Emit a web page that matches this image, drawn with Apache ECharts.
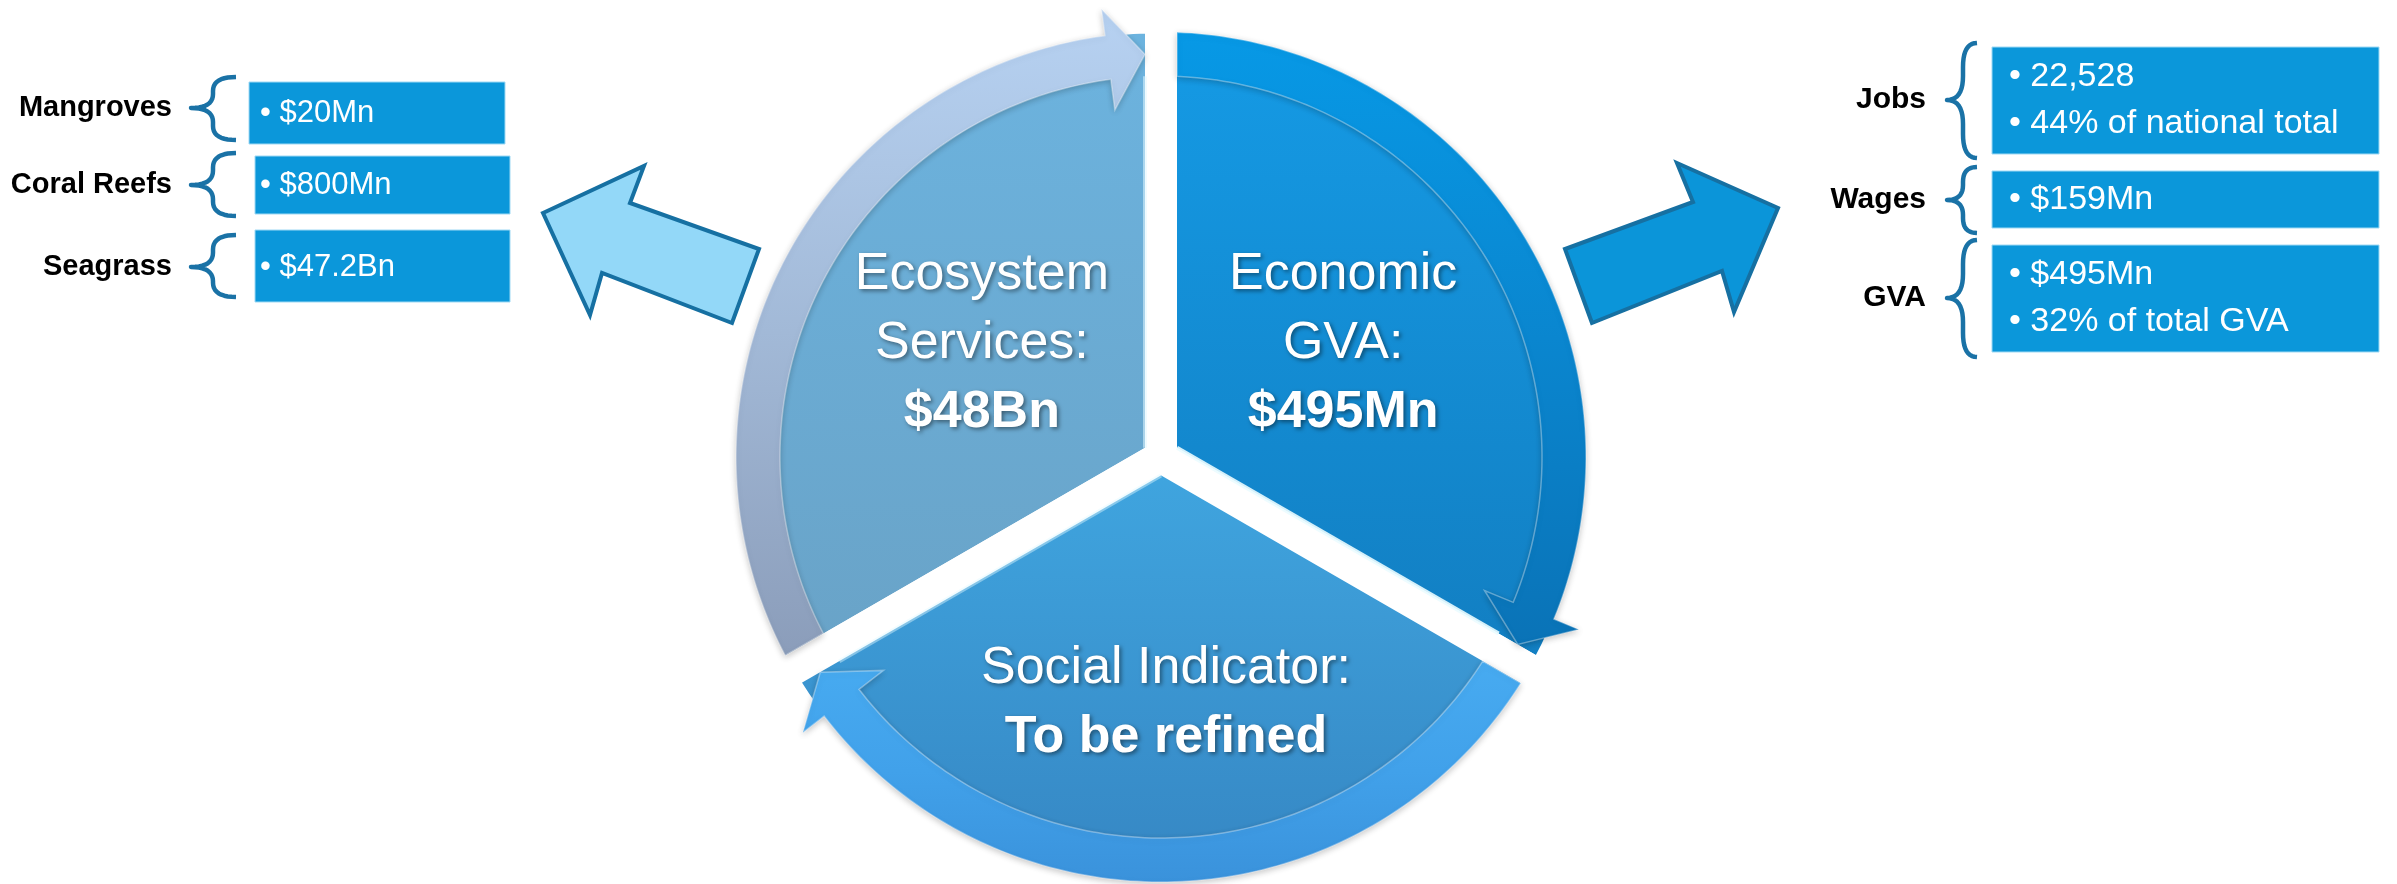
<!DOCTYPE html>
<html><head><meta charset="utf-8">
<script src="https://cdn.jsdelivr.net/npm/echarts@6/dist/echarts.min.js"></script>
<style>html,body{margin:0;padding:0;background:#fff;overflow:hidden}#main{width:2397px;height:884px}</style>
</head><body><div id="main"></div>
<script>
// ---- data ----
const segmentNames = ['Ecosystem Services', 'Economic GVA', 'Social Indicator'];
const segmentShares = [1, 1, 1];
const segmentLabelLines = [['Ecosystem', 'Services:'], ['Economic', 'GVA:'], ['Social Indicator:']];
const segmentHeadlines = ['$48Bn', '$495Mn', 'To be refined'];
const leftCategories = ['Mangroves', 'Coral Reefs', 'Seagrass'];
const leftValues = [['$20Mn'], ['$800Mn'], ['$47.2Bn']];
const rightCategories = ['Jobs', 'Wages', 'GVA'];
const rightValues = [['22,528', '44% of national total'], ['$159Mn'], ['$495Mn', '32% of total GVA']];

// ---- styling / layout ----
const CX = 1161, CY = 457, GAP = 16;
const R_FILL = 424, RI = 381, RO = 425, RM = 403, WING_IN = 31, WING_OUT = 27, HEAD_DEG = 5.3;
const START_ANGLE = 210;
const FONT = "'Liberation Sans', Arial, sans-serif";
const segFill = [['#6cb4e0', '#69a2c6'], ['#159ce7', '#127dc0'], ['#40a7e1', '#3584c1']];
const bandFill = [['#b7d2f2', '#a2b9d7', '#8b9dba'], ['#0799e6', '#0a86cf', '#0a73b7'], ['#47abf1', '#41a1ea', '#3a92db']];
const edgeGlow = ['rgba(225,248,255,0.55)', 'rgba(235,252,255,0.9)', 'rgba(225,248,255,0.45)'];
const grad = (stops) => new echarts.graphic.LinearGradient(0, 0, 0, 1,
  stops.map((c, i) => ({offset: i / (stops.length - 1), color: c})));

const total = segmentShares.reduce((a, b) => a + b, 0);
const toRad = Math.PI / 180;
const pt = (r, a) => [CX + r * Math.cos(a * toRad), CY - r * Math.sin(a * toRad)];
const off = r => Math.asin(GAP / r) / toRad;

function arrowPoints(thS, thE) {
  const tipA = thE + off(RM);
  const baseA = tipA + HEAD_DEG;
  const pts = [];
  const aOutStart = thS - off(RO);
  for (let a = aOutStart; a > baseA; a -= 1) pts.push(pt(RO, a));
  pts.push(pt(RO, baseA));
  pts.push(pt(RO + WING_OUT, baseA));
  pts.push(pt(RM, tipA));
  pts.push(pt(RI - WING_IN, baseA));
  pts.push(pt(RI, baseA));
  const aInStart = thS - off(RI);
  for (let a = baseA; a < aInStart; a += 1) pts.push(pt(RI, a));
  pts.push(pt(RI, aInStart));
  return pts;
}

function renderArrow(params, api) {
  const i = params.dataIndex;
  let cum = 0;
  for (let k = 0; k < i; k++) cum += segmentShares[k];
  const thS = START_ANGLE - 360 * cum / total;
  const thE = thS - 360 * api.value(0) / total;
  const span = thS - thE;
  const mid = (thS + thE) / 2;
  const corner = pt(GAP / Math.sin(span / 2 * toRad), mid);
  const edgeEnd = pt(RI, thE + off(RI));
  return {
    type: 'group',
    children: [
      {type: 'line', shape: {x1: corner[0], y1: corner[1], x2: edgeEnd[0], y2: edgeEnd[1]},
       style: {stroke: edgeGlow[i], lineWidth: 4}},
      {type: 'polygon', shape: {points: arrowPoints(thS, thE)},
       style: {fill: grad(bandFill[i]), stroke: 'rgba(255,255,255,0.35)', lineWidth: 1.5,
               shadowBlur: 6, shadowColor: 'rgba(0,0,0,0.22)', shadowOffsetY: 2}}
    ]
  };
}

const labelOffsets = [[14, -2], [-11, -2], [5, 23]];
const richBase = {color: '#fff', fontFamily: FONT, fontSize: 52, lineHeight: 69,
  textShadowColor: 'rgba(0,0,0,0.45)', textShadowBlur: 4, textShadowOffsetX: 2, textShadowOffsetY: 2};

const graphics = [];
// block arrows
graphics.push({type: 'polygon', z: 10, shape: {points: [[543,213],[644,166],[630,203],[759,249],[732,323],[602,273],[590,315]]},
  style: {fill: '#93d8f8', stroke: '#1670a2', lineWidth: 4, lineJoin: 'miter'}});
graphics.push({type: 'polygon', z: 10, shape: {points: [[1592,323],[1565,249],[1693,202],[1677,163],[1778,208],[1734,312],[1722,271]]},
  style: {fill: '#0b95d9', stroke: '#1670a2', lineWidth: 4, lineJoin: 'miter'}});

function quad(p0, c, p1, out) {
  for (let t = 0; t <= 1.0001; t += 0.1) {
    const u = 1 - t;
    out.push([u * u * p0[0] + 2 * u * t * c[0] + t * t * p1[0], u * u * p0[1] + 2 * u * t * c[1] + t * t * p1[1]]);
  }
}
function brace(P, M, R, T, C, B) {
  const k = Math.min((C - T) * 0.45, 24);
  const pts = [];
  quad([R, T], [M, T], [M, T + k], pts);
  quad([M, C - k], [M, C], [P, C], pts);
  quad([P, C], [M, C], [M, C + k], pts);
  quad([M, B - k], [M, B], [R, B], pts);
  return {type: 'polyline', z: 10, shape: {points: pts},
    style: {fill: null, stroke: '#1a72a6', lineWidth: 4.5, lineJoin: 'round'}};
}

const leftBoxes = [[249, 82, 256, 62], [255, 156, 255, 58], [255, 230, 255, 72]];
const leftBraces = [[77, 108, 140], [153, 185, 216], [235, 267, 297]];
const leftTextY = [113, 185, 267];
leftCategories.forEach((c, i) => {
  const b = leftBoxes[i];
  graphics.push({type: 'rect', z: 10, shape: {x: b[0], y: b[1], width: b[2], height: b[3]},
    style: {fill: '#0b97da', stroke: '#9fd9f4', lineWidth: 1}});
  graphics.push({type: 'text', z: 11, style: {text: leftValues[i].map(v => '\u2022 ' + v).join('\n'),
    x: 260, y: leftTextY[i], fill: '#fff', fontFamily: FONT, fontSize: 31, lineHeight: 46,
    align: 'left', verticalAlign: 'middle'}});
  const br = leftBraces[i];
  graphics.push(brace(191, 213, 236, br[0], br[1], br[2]));
  graphics.push({type: 'text', z: 11, style: {text: c, x: 172, y: br[1], fill: '#000',
    fontFamily: FONT, fontSize: 29, fontWeight: 'bold', align: 'right', verticalAlign: 'middle'}});
});

const rightBoxes = [[1992, 47, 387, 107], [1992, 171, 387, 57], [1992, 245, 387, 107]];
const rightBraces = [[43, 100, 158], [167, 200, 233], [240, 298, 357]];
rightCategories.forEach((c, i) => {
  const b = rightBoxes[i];
  graphics.push({type: 'rect', z: 10, shape: {x: b[0], y: b[1], width: b[2], height: b[3]},
    style: {fill: '#0b97da', stroke: '#9fd9f4', lineWidth: 1}});
  graphics.push({type: 'text', z: 11, style: {text: rightValues[i].map(v => '\u2022 ' + v).join('\n'),
    x: 2009, y: b[1] + b[3] / 2, fill: '#fff', fontFamily: FONT, fontSize: 34, lineHeight: 47,
    align: 'left', verticalAlign: 'middle'}});
  const br = rightBraces[i];
  graphics.push(brace(1947, 1963, 1977, br[0], br[1], br[2]));
  graphics.push({type: 'text', z: 11, style: {text: c, x: 1926, y: br[1], fill: '#000',
    fontFamily: FONT, fontSize: 30, fontWeight: 'bold', align: 'right', verticalAlign: 'middle'}});
});

const chart = echarts.init(document.getElementById('main'), null, {renderer: 'canvas'});
chart.setOption({
  backgroundColor: '#fff',
  animation: false,
  graphic: graphics,
  series: [
    {
      type: 'pie', z: 2, silent: true,
      center: [CX, CY], radius: [0, R_FILL + GAP],
      startAngle: START_ANGLE, clockwise: true,
      itemStyle: {borderColor: '#fff', borderWidth: GAP * 2, borderJoin: 'miter'},
      label: {show: true, position: 'inside',
        formatter: p => segmentLabelLines[p.dataIndex].map(l => '{n|' + l + '}').join('\n') + '\n{v|' + segmentHeadlines[p.dataIndex] + '}',
        rich: {n: Object.assign({}, richBase), v: Object.assign({}, richBase, {fontWeight: 'bold'})}},
      labelLayout: p => ({dx: labelOffsets[p.dataIndex][0], dy: labelOffsets[p.dataIndex][1]}),
      labelLine: {show: false},
      emphasis: {disabled: true},
      data: segmentNames.map((n, i) => ({name: n, value: segmentShares[i],
        itemStyle: {color: grad(segFill[i])}}))
    },
    {
      type: 'custom', z: 3, silent: true, coordinateSystem: 'none',
      renderItem: renderArrow,
      data: segmentShares.map(v => [v])
    }
  ]
});
</script>
</body></html>
